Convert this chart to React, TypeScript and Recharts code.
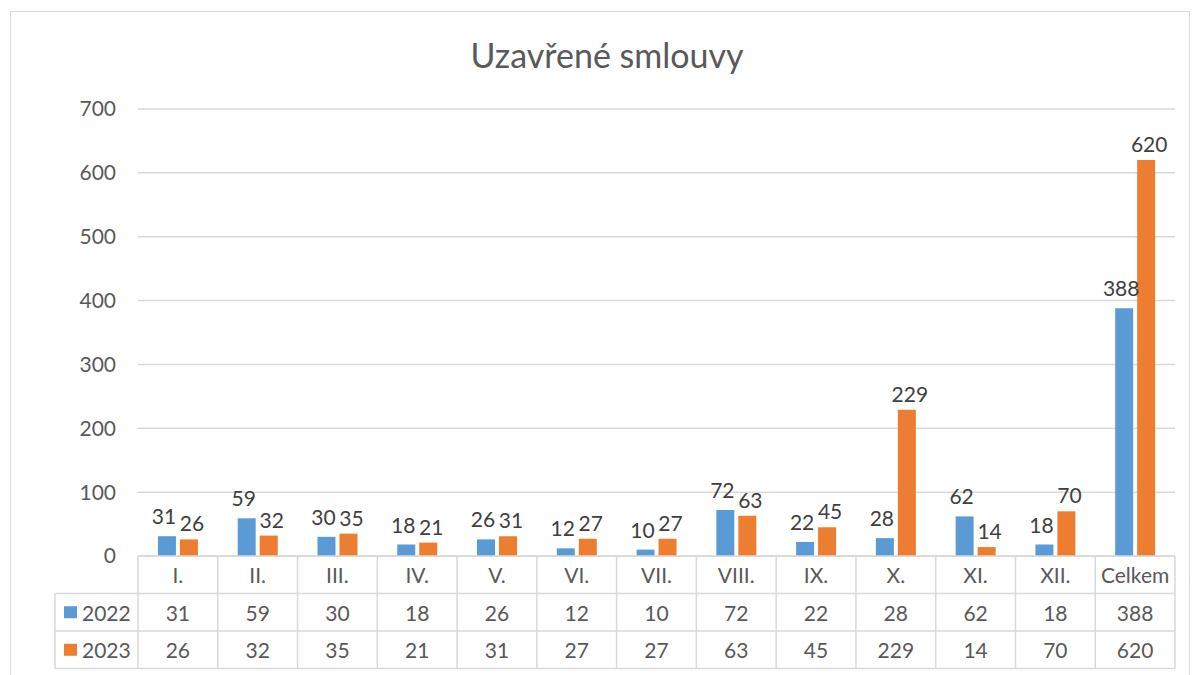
import React from 'react';
import { BarChart, Bar, XAxis, YAxis, CartesianGrid, LabelList } from 'recharts';

const months = ['I.', 'II.', 'III.', 'IV.', 'V.', 'VI.', 'VII.', 'VIII.', 'IX.', 'X.', 'XI.', 'XII.', 'Celkem'];
const values2022 = [31, 59, 30, 18, 26, 12, 10, 72, 22, 28, 62, 18, 388];
const values2023 = [26, 32, 35, 21, 31, 27, 27, 63, 45, 229, 14, 70, 620];
const yTicks = [0, 100, 200, 300, 400, 500, 600, 700];
const seriesNames = ['2022', '2023'];

const data = months.map((name, i) => ({
  name,
  y2022: values2022[i],
  y2023: values2023[i],
}));

const WIDTH = 1200;
const HEIGHT = 675;
const PLOT_LEFT = 138;
const PLOT_RIGHT = 25;
const CELL = (WIDTH - PLOT_LEFT - PLOT_RIGHT) / months.length;
const ROW = 37.5;
const LEGEND_W = 83;

const FONT = 'Lato, "Open Sans", sans-serif';
const TEXT = '#595959';
const LINE = '#d9d9d9';
const BLUE = '#5B9BD5';
const ORANGE = '#ED7D31';

const TableTick = (props: any) => {
  const { x, y, payload } = props;
  const i = payload.index;
  const left = x - CELL / 2;
  const right = x + CELL / 2;
  const top = y;
  const rows = [months[i], String(values2022[i]), String(values2023[i])];
  return (
    <g>
      <line x1={left} y1={top} x2={left} y2={top + ROW * 3} stroke={LINE} strokeWidth={1.5} />
      {i === months.length - 1 && (
        <line x1={right} y1={top} x2={right} y2={top + ROW * 3} stroke={LINE} strokeWidth={1.5} />
      )}
      {[1, 2, 3].map((r) => (
        <line key={r} x1={left} y1={top + ROW * r} x2={right} y2={top + ROW * r} stroke={LINE} strokeWidth={1.5} />
      ))}
      {rows.map((t, r) => (
        <text
          key={r}
          x={x}
          y={top + ROW * r + ROW / 2}
          textAnchor="middle"
          dominantBaseline="central"
          fill={TEXT}
          fontSize={21}
          fontFamily={FONT}
        >
          {t}
        </text>
      ))}
      {i === 0 && (
        <g>
          {[1, 2].map((r) => (
            <g key={r}>
              <line x1={left - LEGEND_W} y1={top + ROW * r} x2={left} y2={top + ROW * r} stroke={LINE} strokeWidth={1.5} />
              <rect x={left - LEGEND_W + 9} y={top + ROW * r + ROW / 2 - 6} width={13} height={12} fill={r === 1 ? BLUE : ORANGE} />
              <text
                x={left - LEGEND_W + 27}
                y={top + ROW * r + ROW / 2}
                dominantBaseline="central"
                fill={TEXT}
                fontSize={21}
                fontFamily={FONT}
              >
                {seriesNames[r - 1]}
              </text>
            </g>
          ))}
          <line x1={left - LEGEND_W} y1={top + ROW} x2={left - LEGEND_W} y2={top + ROW * 3} stroke={LINE} strokeWidth={1.5} />
          <line x1={left - LEGEND_W} y1={top + ROW * 3} x2={left} y2={top + ROW * 3} stroke={LINE} strokeWidth={1.5} />
        </g>
      )}
    </g>
  );
};

const App = () => {
  return (
    <div style={{ position: 'fixed', left: 0, top: 0, width: WIDTH, height: HEIGHT, background: '#fff' }}>
      <div
        style={{
          position: 'absolute',
          left: 10,
          top: 11,
          width: 1180,
          height: 700,
          border: '1.5px solid #d9d9d9',
          boxSizing: 'border-box',
        }}
      />
      <div
        style={{
          position: 'absolute',
          left: 0,
          top: 34,
          width: 1214,
          textAlign: 'center',
          fontFamily: FONT,
          fontSize: 34,
          color: TEXT,
        }}
      >
        Uzavřené smlouvy
      </div>
      <div style={{ position: 'absolute', left: 0, top: 0 }}>
        <BarChart
          width={WIDTH}
          height={HEIGHT}
          data={data}
          margin={{ top: 109, right: PLOT_RIGHT, left: 0, bottom: 7 }}
          barCategoryGap="25%"
          barGap={4}
        >
          <CartesianGrid vertical={false} stroke={LINE} strokeWidth={1.5} />
          <XAxis
            dataKey="name"
            height={112}
            interval={0}
            tickLine={false}
            tickSize={0}
            tickMargin={0}
            axisLine={{ stroke: LINE, strokeWidth: 1.5 }}
            tick={<TableTick />}
          />
          <YAxis
            width={PLOT_LEFT}
            domain={[0, 700]}
            ticks={yTicks}
            axisLine={false}
            tickLine={false}
            tickMargin={16}
            tick={{ fill: TEXT, fontSize: 21, fontFamily: FONT }}
          />
          <Bar dataKey="y2022" fill={BLUE} isAnimationActive={false}>
            <LabelList dataKey="y2022" position="top" offset={12} dx={-3} fill="#404040" fontSize={21} fontFamily={FONT} />
          </Bar>
          <Bar dataKey="y2023" fill={ORANGE} isAnimationActive={false}>
            <LabelList dataKey="y2023" position="top" offset={8} dx={3} fill="#404040" fontSize={21} fontFamily={FONT} />
          </Bar>
        </BarChart>
      </div>
    </div>
  );
};

export default App;
